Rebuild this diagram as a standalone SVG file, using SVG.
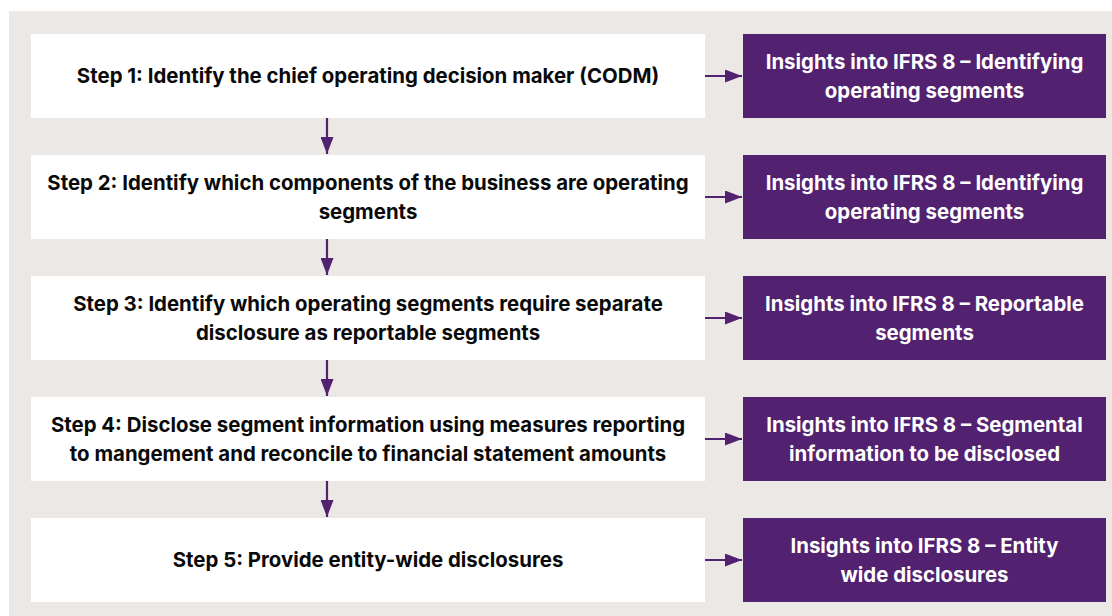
<svg xmlns="http://www.w3.org/2000/svg" width="1112" height="616" viewBox="0 0 1112 616">
<style>
.step{fill:#ffffff}
.ins{fill:#52216F}
.st{font-family:Inter,"Liberation Sans",sans-serif;font-weight:700;font-size:20.4px;fill:#0a0a0a;text-anchor:middle}
.it{font-family:Inter,"Liberation Sans",sans-serif;font-weight:700;font-size:20.4px;fill:#ffffff;text-anchor:middle}
.con{stroke:#52216F;stroke-width:2.2;fill:none}
</style>
<defs>
<marker id="ah" viewBox="0 0 17 13" refX="17" refY="6.5" markerWidth="17" markerHeight="13" markerUnits="userSpaceOnUse" orient="auto">
<path d="M0,0 L17,6.5 L0,13 Z" fill="#52216F"/>
</marker>
</defs>
<rect x="9" y="11" width="1103" height="605" fill="#ECE8E5"/>
<g id="step1"><rect class="step" x="31" y="34" width="674" height="84"/><text class="st" x="368" y="83">Step 1: Identify the chief operating decision maker (CODM)</text></g>
<g id="step2"><rect class="step" x="31" y="155" width="674" height="84"/><text class="st" x="368" y="190">Step 2: Identify which components of the business are operating</text><text class="st" x="368" y="219">segments</text></g>
<g id="step3"><rect class="step" x="31" y="276" width="674" height="84"/><text class="st" x="368" y="311">Step 3: Identify which operating segments require separate</text><text class="st" x="368" y="340">disclosure as reportable segments</text></g>
<g id="step4"><rect class="step" x="31" y="397" width="674" height="84"/><text class="st" x="368" y="432">Step 4: Disclose segment information using measures reporting</text><text class="st" x="368" y="461">to mangement and reconcile to financial statement amounts</text></g>
<g id="step5"><rect class="step" x="31" y="518" width="674" height="84"/><text class="st" x="368" y="567">Step 5: Provide entity-wide disclosures</text></g>
<g id="ins1"><rect class="ins" x="743" y="34" width="363" height="84"/><text class="it" x="924.5" y="69">Insights into IFRS 8 – Identifying</text><text class="it" x="924.5" y="98">operating segments</text></g>
<g id="ins2"><rect class="ins" x="743" y="155" width="363" height="84"/><text class="it" x="924.5" y="190">Insights into IFRS 8 – Identifying</text><text class="it" x="924.5" y="219">operating segments</text></g>
<g id="ins3"><rect class="ins" x="743" y="276" width="363" height="84"/><text class="it" x="924.5" y="311">Insights into IFRS 8 – Reportable</text><text class="it" x="924.5" y="340">segments</text></g>
<g id="ins4"><rect class="ins" x="743" y="397" width="363" height="84"/><text class="it" x="924.5" y="432">Insights into IFRS 8 – Segmental</text><text class="it" x="924.5" y="461">information to be disclosed</text></g>
<g id="ins5"><rect class="ins" x="743" y="518" width="363" height="84"/><text class="it" x="924.5" y="553">Insights into IFRS 8 – Entity</text><text class="it" x="924.5" y="582">wide disclosures</text></g>
<g id="connectors">
<line class="con" x1="705" y1="76" x2="742" y2="76" marker-end="url(#ah)"/>
<line class="con" x1="705" y1="197" x2="742" y2="197" marker-end="url(#ah)"/>
<line class="con" x1="705" y1="318" x2="742" y2="318" marker-end="url(#ah)"/>
<line class="con" x1="705" y1="439" x2="742" y2="439" marker-end="url(#ah)"/>
<line class="con" x1="705" y1="560" x2="742" y2="560" marker-end="url(#ah)"/>
<line class="con" x1="327" y1="118" x2="327" y2="154" marker-end="url(#ah)"/>
<line class="con" x1="327" y1="239" x2="327" y2="275" marker-end="url(#ah)"/>
<line class="con" x1="327" y1="360" x2="327" y2="396" marker-end="url(#ah)"/>
<line class="con" x1="327" y1="481" x2="327" y2="517" marker-end="url(#ah)"/>
</g>
</svg>
